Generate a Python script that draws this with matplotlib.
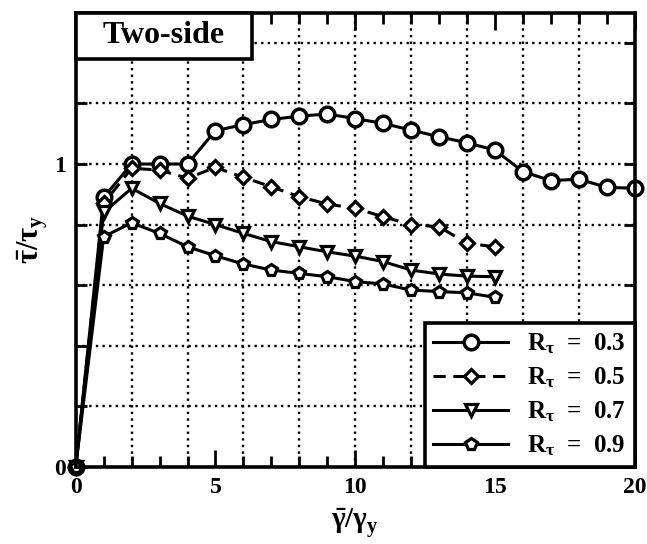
import matplotlib
matplotlib.use("Agg")
import matplotlib.pyplot as plt
from matplotlib.patches import Rectangle

# ---- data ----
x_03 = list(range(0, 21))
y_03 = [0.0, 0.89, 1.0, 1.0, 1.0, 1.11, 1.13, 1.147, 1.158, 1.165, 1.15,
        1.134, 1.112, 1.09, 1.07, 1.046, 0.975, 0.945, 0.95, 0.923, 0.92]
x_rest = list(range(0, 16))
y_05 = [0.0, 0.87, 0.986, 0.98, 0.953, 0.989, 0.956, 0.925, 0.892, 0.868,
        0.854, 0.826, 0.80, 0.793, 0.738, 0.727]
y_07 = [0.0, 0.84, 0.92, 0.87, 0.828, 0.80, 0.771, 0.744, 0.727, 0.71,
        0.696, 0.678, 0.65, 0.637, 0.63, 0.628]
y_09 = [0.0, 0.76, 0.806, 0.771, 0.727, 0.697, 0.67, 0.65, 0.639, 0.628,
        0.612, 0.604, 0.584, 0.579, 0.575, 0.56]
labels = [r'R$_\tau$  =  0.3', r'R$_\tau$  =  0.5', r'R$_\tau$  =  0.7', r'R$_\tau$  =  0.9']
x_ticks = [0, 5, 10, 15, 20]
x_minor = list(range(0, 21))
x_grid = [2, 4, 6, 8, 10, 12, 14, 16, 18]
y_ticks = [0, 0.2, 0.4, 0.6, 0.8, 1.0, 1.2, 1.4]
y_ticklabels = ['0', '', '', '', '', '1', '', '']
y_grid = [0.2, 0.4, 0.6, 0.8, 1.0, 1.2, 1.4]
title_text = 'Two-side'

plt.rcParams['font.family'] = ['Liberation Serif', 'DejaVu Serif']
plt.rcParams['font.weight'] = 'bold'
plt.rcParams['mathtext.fontset'] = 'custom'
plt.rcParams['mathtext.rm'] = 'Liberation Serif:bold'
plt.rcParams['mathtext.it'] = 'Liberation Serif:bold'
plt.rcParams['mathtext.bf'] = 'Liberation Serif:bold'
plt.rcParams['mathtext.default'] = 'rm'

fig = plt.figure(figsize=(6.47, 5.44), dpi=100)
ax = fig.add_axes([0.117, 0.1415, 0.864, 0.8355])

ax.set_xlim(0, 20)
ax.set_ylim(0, 1.5)

grid_style = dict(color='black', linestyle=(0, (1, 1.8)), linewidth=1.7, zorder=1)
for gx in x_grid:
    ax.axvline(gx, **grid_style)
for gy in y_grid:
    ax.axhline(gy, **grid_style)

lw = 2.2
common = dict(color='black', linewidth=lw, markerfacecolor='white',
              markeredgecolor='black', clip_on=False, zorder=3)
ax.plot(x_03, y_03, marker='o', markersize=10.5, markeredgewidth=2.5,
        linestyle='-', label=labels[0], **common)
ax.plot(x_rest, y_05, marker='D', markersize=7.5, markeredgewidth=2.3,
        linestyle=(0, (4, 2.5)), label=labels[1], **common)
ax.plot(x_rest, y_07, marker='v', markersize=8.5, markeredgewidth=2.3,
        linestyle='-', label=labels[2], **common)
ax.plot(x_rest, y_09, marker='p', markersize=8.5, markeredgewidth=2.3,
        linestyle='-', label=labels[3], **common)

ax.set_xticks(x_ticks)
ax.set_xticks(x_minor, minor=True)
ax.set_yticks(y_ticks)
ax.set_yticklabels(y_ticklabels)
ax.tick_params(axis='both', which='major', direction='in', top=True, right=True,
               length=12, width=2.0, labelsize=17, pad=7)
ax.tick_params(axis='x', which='minor', direction='in', top=True,
               length=8, width=2.0)
ax.tick_params(axis='y', which='major', length=8)
for lab in ax.get_xticklabels() + ax.get_yticklabels():
    lab.set_fontweight('bold')

for s in ax.spines.values():
    s.set_linewidth(2.6)
    s.set_zorder(5)

ax.set_xlabel(r'$\bar{\gamma}/\gamma_y$', fontsize=21, labelpad=6)
ax.set_ylabel(r'$\bar{\tau}/\tau_y$', fontsize=22, labelpad=3)

# title box
ax.add_patch(Rectangle((0, 1 - 0.103), 0.315, 0.103, transform=ax.transAxes,
                       facecolor='white', edgecolor='black', linewidth=2.6,
                       zorder=6, clip_on=False))
ax.text(0.1575, 1 - 0.0515, title_text, transform=ax.transAxes, fontsize=23,
        fontweight='bold', ha='center', va='center', zorder=7)

leg = ax.legend(loc='lower right', borderaxespad=0, fontsize=18,
                fancybox=False, framealpha=1, edgecolor='black',
                handlelength=3.0, handletextpad=0.75, labelspacing=0.38,
                borderpad=0.35)
leg.get_frame().set_linewidth(2.6)
leg.set_zorder(8)

fig.savefig('out.png', dpi=100)
